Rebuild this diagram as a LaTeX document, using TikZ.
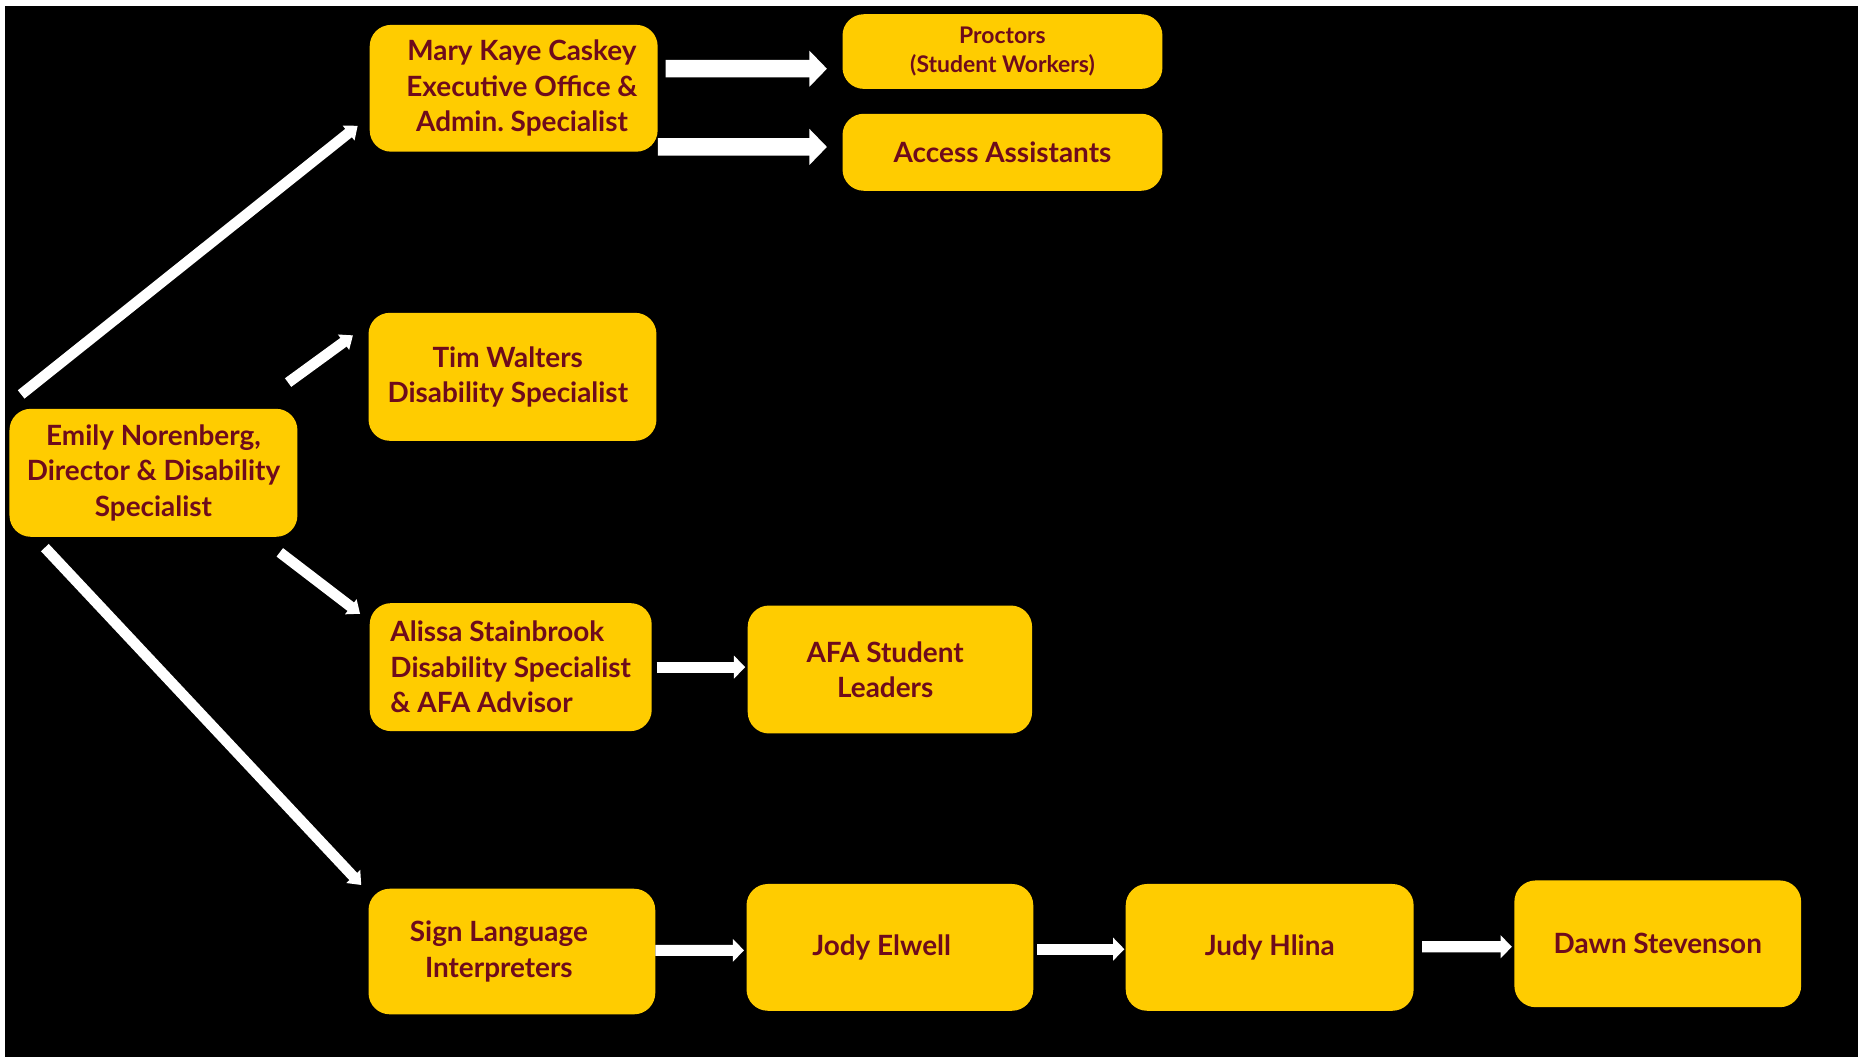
\documentclass[tikz,border=0pt]{standalone}
\usepackage{fontspec}
\setmainfont{Lato}
\usetikzlibrary{arrows.meta}
\definecolor{gold}{HTML}{FFCC00}
\definecolor{maroon}{HTML}{6E0B1C}
\frenchspacing
\begin{document}
\begin{tikzpicture}[x=0.05cm,y=-0.05cm,
  box/.style={fill=gold, rounded corners=0.9cm, text=maroon, align=center, inner sep=0pt,
    font=\bfseries\fontsize{33.5}{42.5}\selectfont},
  smalltext/.style={font=\bfseries\fontsize{27.5}{34}\selectfont},
  diagarr/.style={draw=white, line width=12.8pt, -{Triangle[length=14pt,width=22pt]}},
  bigarr/.style={draw=white, line width=21pt, -{Triangle[length=21pt,width=42pt]}},
  smallarr/.style={draw=white, line width=13.4pt, -{Triangle[length=13.5pt,width=27pt]}}
  ]
\useasboundingbox (0,0) rectangle (1568,892);
\fill[white] (0,0) rectangle (1568,892);
\fill[black] (4,5) rectangle (1568,892);

\node[box, minimum width=12.15cm, minimum height=5.4cm] (emily) at (129.5,399)
  {Emily Norenberg,\\Director \& Disability\\Specialist};
\node[box, minimum width=12.15cm, minimum height=5.35cm] (mary) at (433.5,74.5)
  {\hspace*{0.7cm}Mary Kaye Caskey\\\hspace*{0.7cm}Executive Office \&\\\hspace*{0.7cm}Admin. Specialist};
\node[box, smalltext, minimum width=13.5cm, minimum height=3.15cm] (proctors) at (846,43.5)
  {Proctors\\(Student Workers)};
\node[box, minimum width=13.5cm, minimum height=3.25cm] (access) at (846,128.5)
  {Access Assistants};
\node[box, minimum width=12.15cm, minimum height=5.4cm] (tim) at (432.5,318)
  {Tim Walters\hspace*{0.4cm}\\Disability Specialist\hspace*{0.4cm}};
\node[box, align=left, minimum width=11.9cm, minimum height=5.4cm] (alissa) at (431,563)
  {Alissa Stainbrook\\Disability Specialist\\\& AFA Advisor};
\node[box, minimum width=12cm, minimum height=5.4cm] (afa) at (751,565)
  {AFA Student\hspace*{0.4cm}\\Leaders\hspace*{0.4cm}};
\node[box, minimum width=12.1cm, minimum height=5.3cm] (sign) at (432,803)
  {Sign Language\hspace*{1.1cm}\\Interpreters\hspace*{1.1cm}};
\node[box, minimum width=12.1cm, minimum height=5.35cm] (jody) at (751,799.5)
  {Jody Elwell\hspace*{0.7cm}};
\node[box, minimum width=12.15cm, minimum height=5.35cm] (judy) at (1071.5,799.5)
  {Judy Hlina};
\node[box, minimum width=12.1cm, minimum height=5.35cm] (dawn) at (1399,796.5)
  {Dawn Stevenson};

\draw[diagarr] ([shift={(10,-12)}]emily.north west) -- ([shift={(-10,-22)}]mary.south west);
\draw[diagarr] ([shift={(-8,-22)}]emily.north east) -- ([shift={(-13,-35)}]tim.west);
\draw[diagarr] ([shift={(-15,13)}]emily.south east) -- ([shift={(-8,-45)}]alissa.west);
\draw[diagarr] ([shift={(30,9)}]emily.south west) -- ([shift={(-6,-3)}]sign.north west);

\draw[bigarr] ([shift={(6.5,-16.5)}]mary.east) -- ([shift={(-13,14.5)}]proctors.west);
\draw[bigarr] ([shift={(0,49.5)}]mary.east) -- ([shift={(-13,-4.5)}]access.west);

\draw[smallarr] ([shift={(4,0)}]alissa.east) -- ([shift={(-2,-2)}]afa.west);
\draw[smallarr] ([shift={(0,-1)}]sign.east) -- ([shift={(-2,2.5)}]jody.west);
\draw[smallarr] ([shift={(3,1.5)}]jody.east) -- ([shift={(-1,1.5)}]judy.west);
\draw[smallarr] ([shift={(7,-0.5)}]judy.east) -- ([shift={(-2,2.5)}]dawn.west);
\end{tikzpicture}
\end{document}
